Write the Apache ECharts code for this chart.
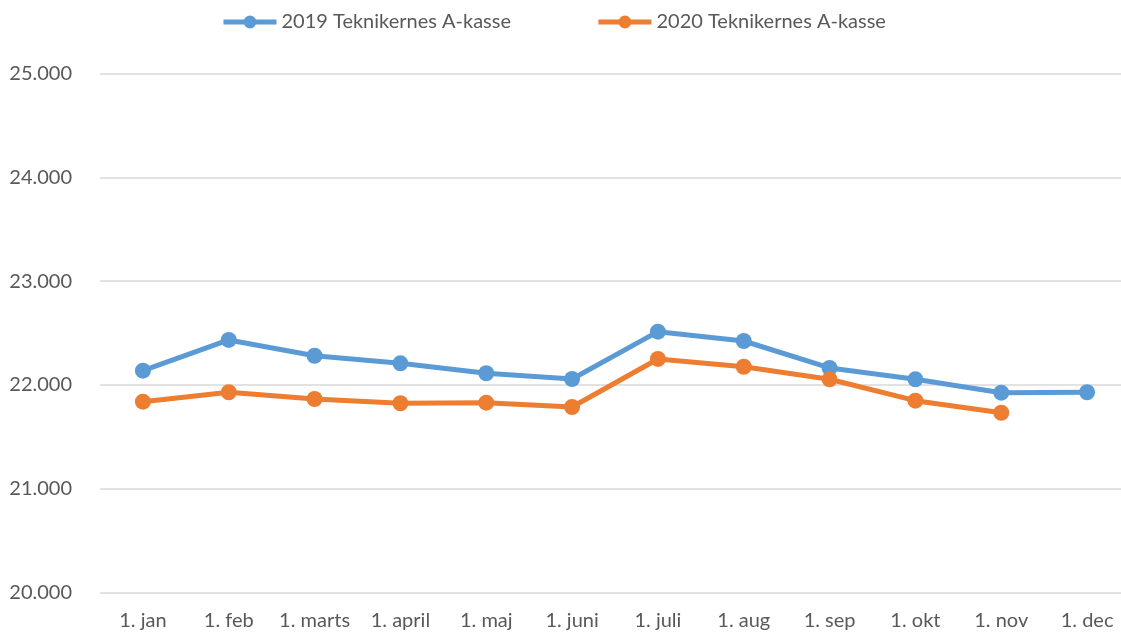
<!DOCTYPE html>
<html>
<head>
<meta charset="utf-8">
<script src="https://cdn.jsdelivr.net/npm/echarts@6/dist/echarts.min.js"></script>
<style>
  html, body { margin: 0; padding: 0; background: #fff; overflow: hidden; }
  #chart { width: 1130px; height: 639px; }
</style>
</head>
<body>
<div id="chart"></div>
<script>
// month labels on the x axis
const months = ['1. jan', '1. feb', '1. marts', '1. april', '1. maj', '1. juni',
  '1. juli', '1. aug', '1. sep', '1. okt', '1. nov', '1. dec'];

const values2019 = [22137, 22433, 22281, 22208, 22112, 22057, 22513, 22423, 22163, 22054, 21925, 21929];
const values2020 = [21838, 21929, 21864, 21823, 21829, 21787, 22250, 22175, 22054, 21848, 21732, null];

const seriesNames = ['2019 Teknikernes A-kasse', '2020 Teknikernes A-kasse'];

const fontFamily = 'Lato, "Open Sans", sans-serif';
const textColor = '#595959';

// chart is a bit wider than the window so the last category sits where Excel put it
const chart = echarts.init(document.getElementById('chart'), null, { renderer: 'canvas' });

const lineSeries = (name, data, color) => ({
  name: name,
  type: 'line',
  data: data,
  symbol: 'circle',
  symbolSize: 16,
  showAllSymbol: true,
  connectNulls: false,
  lineStyle: { color: color, width: 5 },
  itemStyle: { color: color },
  emphasis: { disabled: true },
  animation: false
});

chart.setOption({
  backgroundColor: '#fff',
  textStyle: { fontFamily: fontFamily },
  legend: {
    top: 7,
    left: 216,
    itemWidth: 53,
    itemHeight: 16,
    itemGap: 85,
    lineStyle: { width: 5 },
    textStyle: { color: textColor, fontSize: 20, fontFamily: fontFamily },
    data: seriesNames
  },
  grid: { left: 100, right: 0, top: 73.5, bottom: 46.5, containLabel: false },
  xAxis: {
    type: 'category',
    data: months,
    boundaryGap: true,
    axisLine: { show: false },
    axisTick: { show: false },
    axisLabel: { color: textColor, fontSize: 20, margin: 18, interval: 0, fontFamily: fontFamily }
  },
  yAxis: {
    type: 'value',
    min: 20000,
    max: 25000,
    interval: 1000,
    axisLine: { show: false },
    axisTick: { show: false },
    splitLine: { lineStyle: { color: '#d9d9d9', width: 1.5 } },
    axisLabel: {
      color: textColor,
      fontSize: 20,
      margin: 28,
      fontFamily: fontFamily,
      formatter: v => String(v).replace(/(\d+)(\d{3})$/, '$1.$2')
    }
  },
  series: [
    lineSeries(seriesNames[0], values2019, '#5b9bd5'),
    lineSeries(seriesNames[1], values2020, '#ed7d31')
  ]
});
</script>
</body>
</html>
